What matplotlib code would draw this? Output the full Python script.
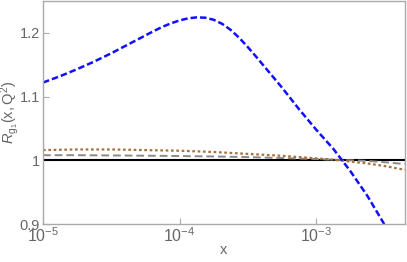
import numpy as np
import matplotlib
matplotlib.use('Agg')
import matplotlib.pyplot as plt
from matplotlib.ticker import NullLocator, FixedLocator

plt.rcParams['font.family'] = ['Liberation Sans', 'DejaVu Sans']
plt.rcParams['mathtext.fontset'] = 'custom'
plt.rcParams['mathtext.rm'] = 'Liberation Sans'
plt.rcParams['mathtext.it'] = 'Liberation Sans:italic'
plt.rcParams['mathtext.default'] = 'regular'

blue_logx = [-5.0, -4.875, -4.75, -4.625, -4.5, -4.375, -4.25, -4.1875, -4.125,
             -4.0625, -4.0, -3.9375, -3.875, -3.8125, -3.75, -3.6875, -3.625,
             -3.5625, -3.5, -3.4375, -3.375, -3.3125, -3.25, -3.125, -3.0,
             -2.875, -2.75, -2.625, -2.5, -2.4]
blue = [1.122, 1.132, 1.143, 1.155, 1.168, 1.182, 1.196, 1.203, 1.2095,
        1.215, 1.2195, 1.2228, 1.2243, 1.2238, 1.2205, 1.214, 1.2045,
        1.192, 1.1775, 1.162, 1.146, 1.130, 1.114, 1.080, 1.048,
        1.018, 0.983, 0.944, 0.899, 0.86]

# flat curves near 1
flat_logx = [-5.0, -4.75, -4.5, -4.25, -4.0, -3.75, -3.5, -3.25, -3.0, -2.875,
             -2.75, -2.625, -2.5, -2.35]
brown = [1.016, 1.017, 1.017, 1.016, 1.015, 1.013, 1.010, 1.007, 1.003, 1.001,
         0.998, 0.995, 0.991, 0.985]
gray = [1.008, 1.008, 1.0076, 1.0072, 1.0067, 1.006, 1.005, 1.0035, 1.002, 1.001,
        1.0, 0.999, 0.997, 0.994]
black = [1.0] * len(flat_logx)

xb = 10.0 ** np.array(blue_logx)
xf = 10.0 ** np.array(flat_logx)

fig = plt.figure(figsize=(4.07, 2.62), dpi=100)
ax = fig.add_axes([43 / 407, 38 / 262, 362 / 407, 223 / 262])

ax.plot(xf, black, color='black', lw=1.5, solid_capstyle='butt')
ax.plot(xf, gray, color='#8a8a8a', lw=1.4, dashes=(4, 2))
ax.plot(xf, brown, color='#a8703a', lw=1.6, dashes=(1.2, 1.2))
ax.plot(xb, blue, color='#1010ff', lw=1.8, dashes=(2.6, 1.2))

ax.set_xscale('log')
ax.set_xlim(1e-5, 10 ** -2.35)
ax.set_ylim(0.9, 1.25)

ax.xaxis.set_major_locator(FixedLocator([1e-5, 1e-4, 1e-3]))
ax.xaxis.set_minor_locator(NullLocator())
ax.set_xticklabels([r'$10^{-5}$', r'$10^{-4}$', r'$10^{-3}$'])
ax.yaxis.set_major_locator(FixedLocator([0.9, 1.0, 1.1, 1.2]))
ax.set_yticklabels(['0.9', '1', '1.1', '1.2'])

axis_col = '#aaaaaa'
text_col = '#666666'
for sp in ax.spines.values():
    sp.set_color(axis_col)
    sp.set_linewidth(1.0)
ax.tick_params(direction='in', length=4, width=0.8, color=axis_col,
               labelcolor=text_col, labelsize=10.5, pad=2)
ax.tick_params(axis='x', labelsize=11.5)

ax.set_xlabel('x', color=text_col, fontsize=10.5)
ax.xaxis.set_label_coords(0.5, -0.085)
ax.set_ylabel(r'$\mathit{R}_{g_1}(x,Q^2)$', color=text_col, fontsize=10.5)
ax.yaxis.set_label_coords(-0.062, 0.5)

fig.savefig('out.png', dpi=100)
